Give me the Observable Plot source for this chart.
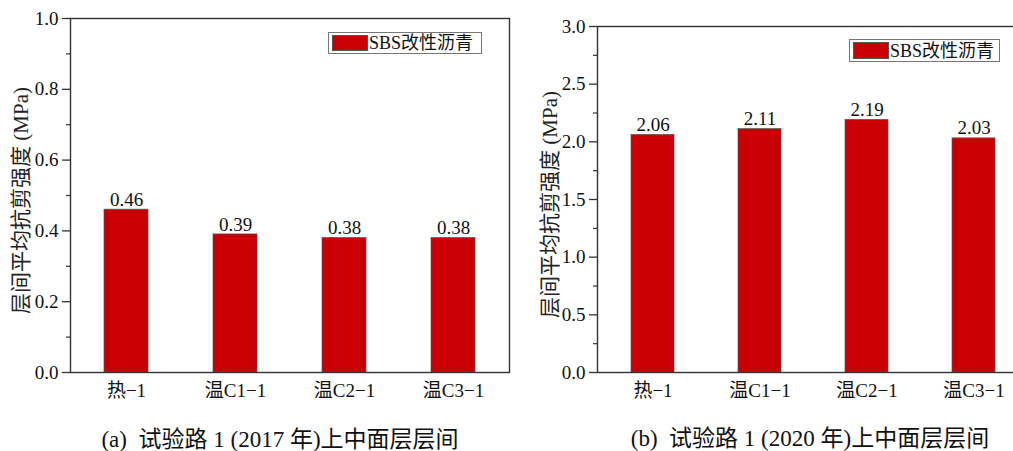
<!DOCTYPE html>
<html><head><meta charset="utf-8">
<script src="https://cdn.jsdelivr.net/npm/d3@7"></script>
<script src="https://cdn.jsdelivr.net/npm/@observablehq/plot@0.6"></script>
<style>
html,body{margin:0;padding:0;background:#fff;overflow:hidden;}
#wrap{position:relative;width:1013px;height:451px;overflow:hidden;font-family:"Liberation Serif","Noto Sans CJK SC",serif;color:#111;}
.panel{position:absolute;top:0;}
.panel svg{max-width:none !important;}
.cap{position:absolute;font-size:23px;line-height:1;white-space:pre;transform:translate(-50%,-50%);}
.leg{position:absolute;box-sizing:border-box;border:1px solid #777;background:#fff;font-size:18px;line-height:1;display:flex;align-items:center;white-space:nowrap;overflow:hidden;}
.leg .sw{display:inline-block;background:#c80004;border:1px solid #555;box-sizing:border-box;margin-right:1px;flex:none;}
</style></head>
<body>
<div id="wrap">
  <div id="pa" class="panel" style="left:0;width:512px"></div>
  <div id="pb" class="panel" style="left:512px;width:520px"></div>
  <div class="leg" style="left:328px;top:32px;width:154px;height:22px;padding-left:3px;"><span class="sw" style="width:36px;height:16px"></span><span class="legtxt"></span></div>
  <div class="leg" style="left:849px;top:39px;width:151px;height:23px;padding-left:3px;"><span class="sw" style="width:36px;height:17px"></span><span class="legtxt"></span></div>
  <div class="cap" id="capA" style="left:280px;top:439px"></div>
  <div class="cap" id="capB" style="left:810px;top:438px"></div>
</div>
<script>
const categories = ["热−1", "温C1−1", "温C2−1", "温C3−1"];
const values2017 = [0.46, 0.39, 0.38, 0.38];
const values2020 = [2.06, 2.11, 2.19, 2.03];
const majorTicks2017 = [0, 0.2, 0.4, 0.6, 0.8, 1.0];
const minorTicks2017 = [0.1, 0.3, 0.5, 0.7, 0.9];
const majorTicks2020 = [0, 0.5, 1.0, 1.5, 2.0, 2.5, 3.0];
const minorTicks2020 = [0.25, 0.75, 1.25, 1.75, 2.25, 2.75];
const yTitle = "层间平均抗剪强度 (MPa)";
const legendLabel = "SBS改性沥青";
const captionA = "(a)  试验路 1 (2017 年)上中面层层间";
const captionB = "(b)  试验路 1 (2020 年)上中面层层间";

const FONT = '"Liberation Serif","Noto Sans CJK SC",serif';
const BAR = "#c80004";

function panel(values, domain, majors, minors, opts) {
  const data = categories.map((c, i) => ({cat: c, val: values[i]}));
  return Plot.plot({
    width: opts.width, height: 400,
    marginLeft: opts.ml, marginRight: opts.mr, marginTop: opts.mt, marginBottom: 28,
    style: {fontFamily: FONT, fontSize: "19px", color: "#111", background: "#fff", overflow: "visible", maxWidth: "none"},
    x: {type: "band", domain: categories, paddingInner: 0.6, paddingOuter: 0.3, label: null},
    y: {domain: domain, label: null},
    marks: [
      Plot.barY(data, {x: "cat", y: "val", fill: BAR, stroke: "#555", strokeWidth: 0.7}),
      Plot.text(data, {x: "cat", y: "val", text: d => d.val.toFixed(2), dy: -10, fontSize: 19, fill: "#111"}),
      Plot.frame({stroke: "#333", strokeWidth: 1.4}),
      Plot.axisY({ticks: majors, tickSize: 8, tickPadding: 4, tickFormat: d3.format(".1f"), fontSize: 19, stroke: "#333", strokeWidth: 1.3, label: null}),
      Plot.axisY({ticks: minors, tickSize: 4, tickFormat: () => "", stroke: "#333", strokeWidth: 1.2, label: null}),
      Plot.axisX({tickSize: 0, tickPadding: 11, fontSize: 19, label: null}),
      Plot.text([yTitle], {text: d => d, frameAnchor: "left", textAnchor: "middle", rotate: -90, dx: opts.tdx, dy: 5, fontSize: 21, fill: "#222"})
    ]
  });
}

document.getElementById("pa").append(panel(values2017, [0, 1], majorTicks2017, minorTicks2017, {width: 512, ml: 70, mr: 3, mt: 18, tdx: -49}));
document.getElementById("pb").append(panel(values2020, [0, 3], majorTicks2020, minorTicks2020, {width: 520, ml: 85, mr: 4, mt: 26, tdx: -47}));
document.querySelectorAll(".legtxt").forEach(e => e.textContent = legendLabel);
document.getElementById("capA").textContent = captionA;
document.getElementById("capB").textContent = captionB;
</script>
</body></html>
